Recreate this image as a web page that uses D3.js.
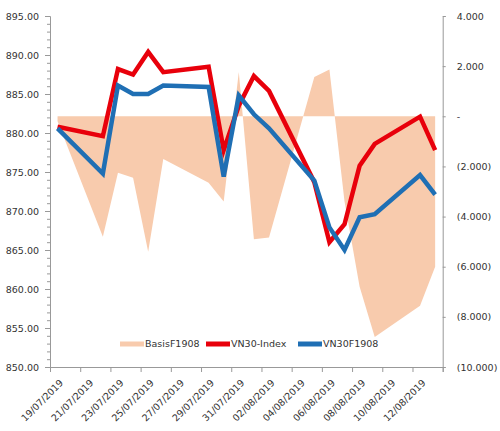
<!DOCTYPE html>
<html lang="en">
<head>
    <meta charset="utf-8" />
    <title>VN30 basis</title>
    <script src="https://d3js.org/d3.v7.min.js"></script>
    <style>
        body { margin: 0; background: #fff; }
        svg text { font-family: "DejaVu Sans", Verdana, sans-serif; font-size: 9.5px; fill: #333; }
    </style>
</head>
<body>
    <svg width="500" height="431"></svg>
    <script>
        // trading days
        var days = ["19/07/2019", "22/07/2019", "23/07/2019", "24/07/2019", "25/07/2019", "26/07/2019",
            "29/07/2019", "30/07/2019", "31/07/2019", "01/08/2019", "02/08/2019", "05/08/2019",
            "06/08/2019", "07/08/2019", "08/08/2019", "09/08/2019", "12/08/2019", "13/08/2019"];
        var vn30Index = [880.8, 879.6, 888.2, 887.5, 890.4, 887.8, 888.5, 877.8, 883.5, 887.3, 885.4, 873.7,
            866.0, 868.3, 875.8, 878.6, 882.1, 877.8];
        var vn30F1908 = [880.6, 874.8, 886.1, 885.0, 885.0, 886.1, 885.9, 874.4, 884.8, 882.4, 880.6, 873.9,
            867.9, 865.0, 869.2, 869.6, 874.6, 872.1];
        var basisF1908 = [-0.2, -4.8, -2.25, -2.45, -5.4, -1.7, -2.65, -3.4, 1.77, -4.9, -4.83, 1.57,
            1.87, -3.4, -6.8, -8.8, -7.56, -6.0];
        var leftTicks = [850, 855, 860, 865, 870, 875, 880, 885, 890, 895];
        var rightTicks = [-10, -8, -6, -4, -2, 0, 2, 4];
        var seriesNames = ["BasisF1908", "VN30-Index", "VN30F1908"];
        var colors = ["#f8cbad", "#e8000b", "#1f6fb4"];

        var parse = d3.timeParse("%d/%m/%Y");
        var dates = days.map(parse);

        var svg = d3.select("svg");
        var pLeft = 50, pRight = 442.7, pTop = 16, pBottom = 367;

        var x = d3.scaleTime()
            .domain([parse("19/07/2019"), parse("14/08/2019")])
            .range([pLeft, pRight]);
        var yL = d3.scaleLinear().domain([850, 895]).range([pBottom, pTop]);
        var yR = d3.scaleLinear().domain([-10, 4]).range([pBottom, pTop]);

        // points sit in the middle of their day
        var px = function (i) { return x(d3.timeHour.offset(dates[i], 12)); };

        // basis area
        var area = d3.area()
            .x(function (d, i) { return px(i); })
            .y0(yR(0))
            .y1(function (d) { return yR(d); });
        svg.append("path")
            .datum(basisF1908)
            .attr("d", area)
            .attr("fill", colors[0]);

        var lineL = d3.line()
            .x(function (d, i) { return px(i); })
            .y(function (d) { return yL(d); });

        [vn30Index, vn30F1908].forEach(function (s, k) {
            svg.append("path")
                .datum(s)
                .attr("d", lineL)
                .attr("fill", "none")
                .attr("stroke", colors[k + 1])
                .attr("stroke-width", 4.5)
                .attr("stroke-linejoin", "miter");
        });

        // left axis, minor ticks every 1
        svg.append("g")
            .attr("transform", "translate(" + pLeft + ",0)")
            .call(d3.axisLeft(yL).tickValues(d3.range(850, 896, 1)).tickSize(3).tickFormat(""))
            .call(function (g) { g.select(".domain").remove(); });
        var gL = svg.append("g")
            .attr("transform", "translate(" + pLeft + ",0)")
            .call(d3.axisLeft(yL).tickValues(leftTicks).tickSize(5).tickPadding(6).tickFormat(d3.format(".2f")));

        // right axis
        var fmtR = function (v) {
            if (v === 0) return "-";
            return v < 0 ? "(" + d3.format(".3f")(-v) + ")" : d3.format(".3f")(v);
        };
        var gR = svg.append("g")
            .attr("transform", "translate(" + pRight + ",0)")
            .call(d3.axisRight(yR).tickValues(rightTicks).tickSize(3).tickPadding(11).tickFormat(fmtR));

        // date axis
        var tickDays = d3.timeDay.range(parse("19/07/2019"), parse("15/08/2019")).filter(function (d, i) { return i % 2 === 0; });
        var gX = svg.append("g")
            .attr("transform", "translate(0," + pBottom + ")")
            .call(d3.axisBottom(x).tickValues(tickDays).tickSize(5).tickFormat(function (d) {
                return d < parse("14/08/2019") ? d3.timeFormat("%d/%m/%Y")(d) : "";
            }));
        gX.selectAll("text")
            .attr("text-anchor", "end")
            .attr("y", 0)
            .attr("dy", "0.35em")
            .attr("transform", "translate(11,14) rotate(-45)");

        [gL, gR, gX].forEach(function (g) {
            g.select(".domain").attr("stroke", "#999");
        });
        svg.selectAll(".tick line").attr("stroke", "#999");

        // legend
        var legX = [120, 206, 298];
        var legend = svg.append("g").attr("transform", "translate(0,344)");
        seriesNames.forEach(function (name, i) {
            legend.append("line")
                .attr("x1", legX[i]).attr("x2", legX[i] + 24)
                .attr("y1", 0).attr("y2", 0)
                .attr("stroke", colors[i])
                .attr("stroke-width", 5);
            legend.append("text")
                .attr("x", legX[i] + 25)
                .attr("y", 0)
                .attr("dy", "0.35em")
                .text(name);
        });
    </script>
</body>
</html>
